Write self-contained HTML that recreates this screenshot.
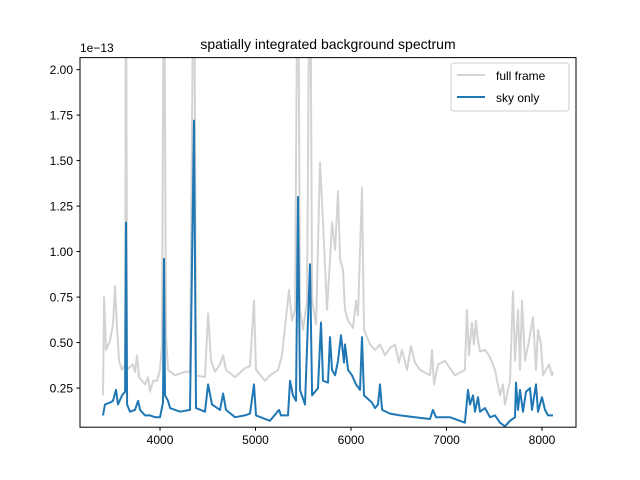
<!DOCTYPE html>
<html><head><meta charset="utf-8"><style>body{margin:0;background:#fff}svg{display:block;font-family:"Liberation Sans","DejaVu Sans",sans-serif}</style></head>
<body>
<svg id="chart" width="640" height="480">
<defs><clipPath id="clip"><rect x="80" y="57.6" width="496" height="369.6"/></clipPath></defs>
<text x="328" y="49" text-anchor="middle" font-size="14">spatially integrated background spectrum</text>
<text x="80" y="52" font-size="12">1e−13</text>
<g id="lines" clip-path="url(#clip)"></g>
<rect x="80" y="57.6" width="496" height="369.6" fill="none" stroke="#000" stroke-width="1"/>
<g id="xticks"></g><g id="yticks"></g>
<g>
<rect x="451" y="63" width="118" height="48" rx="3" fill="#fff" fill-opacity="0.8" stroke="#ccc"/>
<line x1="457" y1="75" x2="485" y2="75" stroke="#d3d3d3" stroke-width="2"/>
<text x="496" y="80" font-size="12">full frame</text>
<line x1="457" y1="97" x2="485" y2="97" stroke="#1f77b4" stroke-width="2"/>
<text x="496" y="102" font-size="12">sky only</text>
</g>
</svg>
<script>
const fullWave=[3403,3414,3434,3476,3508,3529,3550,3571,3602,3634,3644,3655,3717,3738,3759,3780,3812,3843,3874,3895,3927,3969,4000,4021,4042,4063,4084,4157,4262,4314,4356,4377,4471,4503,4534,4576,4628,4660,4691,4785,4890,4942,4984,5005,5099,5152,5236,5277,5351,5382,5413,5445,5466,5497,5539,5571,5592,5634,5675,5696,5749,5780,5801,5833,5864,5885,5916,5937,5969,6021,6052,6073,6115,6136,6199,6251,6304,6356,6408,6460,6502,6534,6586,6628,6670,6722,6827,6848,6869,6911,6984,7036,7089,7193,7214,7235,7266,7287,7308,7330,7351,7403,7455,7508,7560,7591,7612,7665,7696,7717,7749,7770,7791,7822,7864,7906,7937,7958,7990,8010,8042,8073,8105,8115];
const fullFlux=[0.21,0.75,0.46,0.51,0.60,0.81,0.57,0.40,0.35,0.38,3.0,0.35,0.38,0.34,0.43,0.31,0.29,0.27,0.31,0.23,0.29,0.29,0.35,0.49,3.0,0.54,0.35,0.32,0.34,0.34,3.0,0.32,0.31,0.66,0.40,0.34,0.38,0.43,0.35,0.31,0.36,0.37,0.73,0.35,0.29,0.32,0.35,0.43,0.79,0.62,0.68,3.0,0.68,0.57,0.73,3.0,0.73,0.60,1.49,1.28,0.68,0.95,1.16,1.01,1.33,0.96,0.90,0.68,0.62,0.58,0.73,0.65,1.35,0.57,0.49,0.46,0.49,0.43,0.47,0.49,0.39,0.46,0.35,0.48,0.39,0.35,0.32,0.46,0.27,0.38,0.40,0.36,0.32,0.35,0.68,0.43,0.61,0.49,0.62,0.51,0.45,0.46,0.42,0.35,0.21,0.27,0.16,0.29,0.78,0.40,0.68,0.35,0.73,0.40,0.51,0.64,0.35,0.57,0.49,0.32,0.35,0.38,0.32,0.34];
const skyWave=[3403,3424,3476,3508,3539,3560,3602,3634,3644,3655,3686,3738,3770,3791,3843,3895,3948,4000,4031,4042,4052,4084,4105,4209,4314,4356,4377,4471,4503,4544,4628,4660,4691,4785,4890,4942,4984,5005,5152,5246,5267,5340,5361,5393,5424,5445,5466,5518,5571,5592,5654,5686,5707,5759,5780,5801,5833,5864,5895,5927,5937,5969,6010,6052,6094,6115,6136,6220,6251,6283,6304,6325,6408,6513,6670,6827,6858,6890,7036,7193,7225,7246,7277,7298,7330,7351,7403,7455,7508,7560,7612,7665,7717,7728,7749,7770,7801,7832,7874,7895,7937,7958,8000,8031,8063,8115];
const skyFlux=[0.10,0.16,0.17,0.18,0.24,0.16,0.21,0.23,1.16,0.16,0.12,0.13,0.18,0.13,0.10,0.10,0.09,0.09,0.17,0.96,0.21,0.18,0.14,0.12,0.13,1.72,0.14,0.12,0.27,0.16,0.13,0.22,0.13,0.09,0.10,0.11,0.27,0.10,0.07,0.13,0.10,0.10,0.29,0.21,0.18,1.30,0.24,0.16,0.93,0.21,0.25,0.61,0.29,0.28,0.53,0.35,0.32,0.40,0.54,0.39,0.49,0.35,0.32,0.27,0.24,0.53,0.21,0.17,0.14,0.16,0.27,0.13,0.11,0.10,0.09,0.08,0.13,0.09,0.09,0.06,0.24,0.16,0.21,0.12,0.20,0.12,0.14,0.09,0.10,0.06,0.04,0.07,0.09,0.28,0.13,0.24,0.12,0.23,0.25,0.13,0.27,0.12,0.20,0.13,0.10,0.10];
const xTicks=[4000,5000,6000,7000,8000];
const yTicks=[0.25,0.50,0.75,1.00,1.25,1.50,1.75,2.00];
const NS='http://www.w3.org/2000/svg';
const X0=80,X1=576,Y0=427.2,Y1=57.6,XMIN=3162,XMAX=8356,YMIN=0.035,YMAX=2.066;
function xs(v){return X0+(v-XMIN)/(XMAX-XMIN)*(X1-X0);}
function ys(v){return Y0-(v-YMIN)/(YMAX-YMIN)*(Y0-Y1);}
function mk(t,a,p){const e=document.createElementNS(NS,t);for(const k in a)e.setAttribute(k,a[k]);p.appendChild(e);return e;}
const lines=document.getElementById('lines');
function series(w,f,color,name){
  const d=w.map((v,i)=>(i?'L':'M')+xs(v).toFixed(1)+','+ys(f[i]).toFixed(1)).join('');
  const p=mk('path',{d:d,fill:'none',stroke:color,'stroke-width':2,'stroke-linejoin':'round'},lines);
  
  
}
series(fullWave,fullFlux,'#d3d3d3','full-frame-line');
series(skyWave,skyFlux,'#1f77b4','sky-only-line');
const xg=document.getElementById('xticks');
xTicks.forEach(t=>{const x=xs(t);
  const l=mk('line',{x1:x,x2:x,y1:Y0,y2:Y0+3.5,stroke:'#000'},xg);
  
  
  const s=mk('text',{x:x,y:Y0+17,'font-size':12,'text-anchor':'middle'},xg);s.textContent=t;
  
  });
const yg=document.getElementById('yticks');
yTicks.forEach(t=>{const y=ys(t);
  const l=mk('line',{x1:X0-3.5,x2:X0,y1:y,y2:y,stroke:'#000'},yg);
  
  
  const s=mk('text',{x:X0-7,y:y+4.3,'font-size':12,'text-anchor':'end'},yg);s.textContent=t.toFixed(2);
  
  });
</script>
</body></html>
